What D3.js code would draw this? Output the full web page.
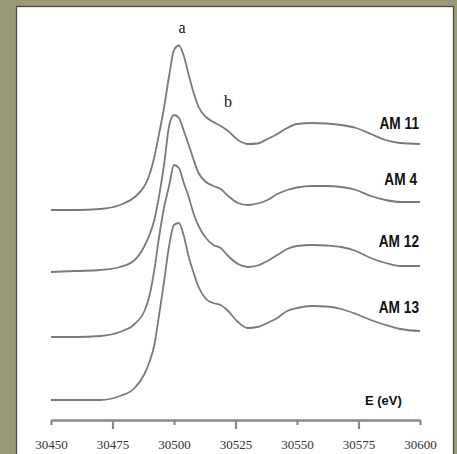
<!DOCTYPE html>
<html>
<head>
<meta charset="utf-8">
<script src="https://cdn.jsdelivr.net/npm/d3@7"></script>
<style>
  body { margin: 0; }
  svg { display: block; }
</style>
</head>
<body>
<svg width="457" height="454"></svg>
<script>
'use strict';

// photon energy (eV)
var energy = [30450, 30460, 30470, 30478, 30484, 30488, 30490, 30492, 30494, 30496,
    30498, 30500, 30502, 30504, 30506, 30508, 30510, 30513, 30516, 30519,
    30522, 30526, 30530, 30534, 30538, 30542, 30546, 30550, 30556, 30562,
    30568, 30574, 30580, 30586, 30592, 30600];

// normalized absorption, one array per sample
var am11 = [0, 0, 0.01, 0.05, 0.13, 0.24, 0.35, 0.53, 0.77, 1.03,
    1.34, 1.60, 1.645, 1.54, 1.35, 1.17, 1.03, 0.93, 0.88, 0.84,
    0.79, 0.70, 0.66, 0.665, 0.71, 0.76, 0.82, 0.86, 0.87, 0.865,
    0.85, 0.82, 0.76, 0.70, 0.67, 0.66];
var am4 = [0, 0.01, 0.02, 0.05, 0.12, 0.26, 0.37, 0.52, 0.77, 1.08,
    1.46, 1.57, 1.54, 1.41, 1.27, 1.12, 0.99, 0.90, 0.86, 0.83,
    0.76, 0.69, 0.67, 0.685, 0.72, 0.78, 0.82, 0.845, 0.86, 0.86,
    0.85, 0.82, 0.76, 0.72, 0.70, 0.70];
var am12 = [0, 0, 0.01, 0.05, 0.13, 0.26, 0.41, 0.67, 1.01, 1.30,
    1.51, 1.72, 1.69, 1.54, 1.40, 1.23, 1.11, 0.99, 0.92, 0.89,
    0.81, 0.73, 0.70, 0.715, 0.76, 0.82, 0.88, 0.91, 0.92, 0.915,
    0.90, 0.86, 0.79, 0.74, 0.71, 0.71];
var am13 = [0, 0, 0, 0.04, 0.12, 0.26, 0.38, 0.55, 0.86, 1.19,
    1.54, 1.75, 1.77, 1.64, 1.43, 1.27, 1.13, 1.01, 0.97, 0.95,
    0.89, 0.78, 0.72, 0.73, 0.77, 0.82, 0.89, 0.92, 0.94, 0.935,
    0.91, 0.86, 0.80, 0.75, 0.71, 0.69];

var sampleNames = ['AM 11', 'AM 4', 'AM 12', 'AM 13'];
var sampleValues = [am11, am4, am12, am13];
var offsets = [1.90, 1.28, 0.63, 0];

var tickValues = [30450, 30475, 30500, 30525, 30550, 30575, 30600];

var svg = d3.select('svg');

// olive frame + white panel
svg.append('rect')
    .attr('width', 457).attr('height', 454)
    .attr('fill', '#9a9a79');
svg.append('rect')
    .attr('x', 16.5).attr('y', 6.5)
    .attr('width', 437).attr('height', 470)
    .attr('fill', '#fff')
    .attr('stroke', '#4b4b40')
    .attr('stroke-width', 1.3);

var x = d3.scaleLinear().domain([30450, 30600]).range([51, 420]);
var y = d3.scaleLinear().domain([0, 4]).range([400, 0]);

var series = sampleNames.map(function(name, i) {
    return {
        name: name,
        values: energy.map(function(e, j) {
            return {e: e, v: sampleValues[i][j] + offsets[i]};
        })
    };
});

var line = d3.line()
    .curve(d3.curveMonotoneX)
    .x(function(d) { return x(d.e); })
    .y(function(d) { return y(d.v); });

svg.selectAll('.spectrum')
    .data(series)
    .enter()
    .append('path')
    .attr('class', 'spectrum')
    .attr('fill', 'none')
    .attr('stroke', '#7a7a7a')
    .attr('stroke-width', 1.8)
    .attr('d', function(d) { return line(d.values); });

// sample labels (condensed bold)
var labelPos = [
    {x: 419, y: 129},
    {x: 417, y: 185},
    {x: 419, y: 247},
    {x: 419, y: 313}
];
svg.selectAll('.sample-label')
    .data(series)
    .enter()
    .append('text')
    .attr('class', 'sample-label')
    .attr('transform', function(d, i) {
        return 'translate(' + labelPos[i].x + ',' + labelPos[i].y + ') scale(0.83,1)';
    })
    .attr('text-anchor', 'end')
    .attr('font-family', '"Liberation Sans", Arial, sans-serif')
    .attr('font-weight', 'bold')
    .attr('font-size', 16.5)
    .attr('fill', '#111')
    .text(function(d) { return d.name; });

// peak markers
svg.append('text')
    .attr('x', 182).attr('y', 33)
    .attr('text-anchor', 'middle')
    .attr('font-family', '"Liberation Serif", serif')
    .attr('font-size', 16)
    .attr('fill', '#111')
    .text('a');
svg.append('text')
    .attr('x', 228).attr('y', 107)
    .attr('text-anchor', 'middle')
    .attr('font-family', '"Liberation Serif", serif')
    .attr('font-size', 16)
    .attr('fill', '#111')
    .text('b');

// x axis
var axis = svg.append('g')
    .attr('class', 'axis axis--x')
    .attr('transform', 'translate(0,420)')
    .call(d3.axisBottom(x).tickValues(tickValues).tickFormat(d3.format('d')).tickSizeOuter(0));

axis.select('.domain')
    .attr('stroke', '#8a8a8a')
    .attr('stroke-width', 2.4);
axis.selectAll('.tick line')
    .attr('stroke', '#8a8a8a')
    .attr('stroke-width', 2.2)
    .attr('y2', function(d, i) { return i % 2 === 1 ? 9 : 5; });
axis.selectAll('.tick text')
    .attr('y', 20)
    .attr('font-family', '"Liberation Serif", serif')
    .attr('font-size', 13)
    .attr('fill', '#333');

svg.append('text')
    .attr('x', 365).attr('y', 405)
    .attr('font-family', '"Liberation Sans", Arial, sans-serif')
    .attr('font-weight', 'bold')
    .attr('font-size', 13)
    .attr('fill', '#111')
    .text('E (eV)');
</script>
</body>
</html>
